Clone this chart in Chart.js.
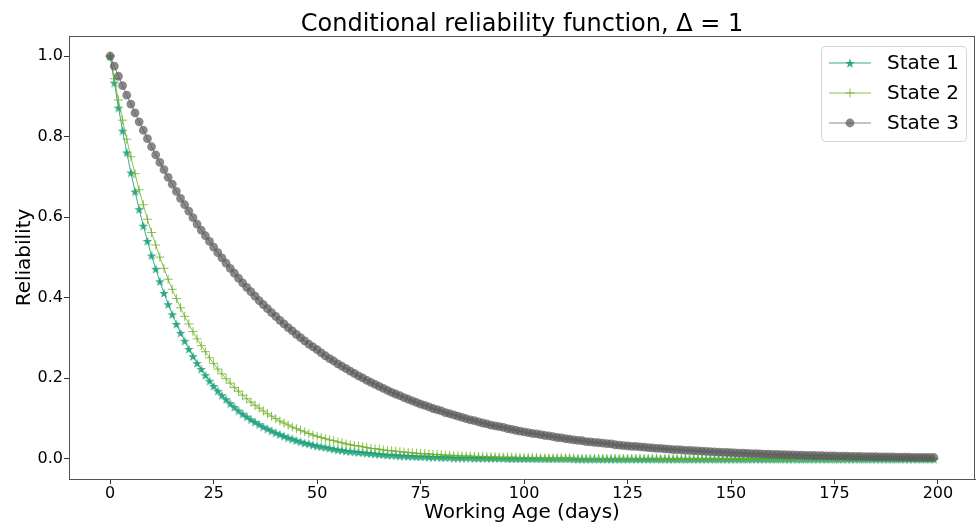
<!DOCTYPE html>
<html>
<head>
<meta charset="utf-8">
<script src="https://cdn.jsdelivr.net/npm/chart.js@4.4.1/dist/chart.umd.min.js"></script>
<style>
  html, body { margin: 0; padding: 0; background: #fff; }
  #wrap { position: relative; width: 976px; height: 525px; }
</style>
</head>
<body>
<div id="wrap"><canvas id="chart" width="976" height="525"></canvas></div>
<script>
// Working age in days (x values)
const days = [
  0, 1, 2, 3, 4, 5, 6, 7, 8, 9, 10, 11, 12, 13, 14, 15, 16, 17, 18, 19,
  20, 21, 22, 23, 24, 25, 26, 27, 28, 29, 30, 31, 32, 33, 34, 35, 36, 37, 38, 39,
  40, 41, 42, 43, 44, 45, 46, 47, 48, 49, 50, 51, 52, 53, 54, 55, 56, 57, 58, 59,
  60, 61, 62, 63, 64, 65, 66, 67, 68, 69, 70, 71, 72, 73, 74, 75, 76, 77, 78, 79,
  80, 81, 82, 83, 84, 85, 86, 87, 88, 89, 90, 91, 92, 93, 94, 95, 96, 97, 98, 99,
  100, 101, 102, 103, 104, 105, 106, 107, 108, 109, 110, 111, 112, 113, 114, 115, 116, 117, 118, 119,
  120, 121, 122, 123, 124, 125, 126, 127, 128, 129, 130, 131, 132, 133, 134, 135, 136, 137, 138, 139,
  140, 141, 142, 143, 144, 145, 146, 147, 148, 149, 150, 151, 152, 153, 154, 155, 156, 157, 158, 159,
  160, 161, 162, 163, 164, 165, 166, 167, 168, 169, 170, 171, 172, 173, 174, 175, 176, 177, 178, 179,
  180, 181, 182, 183, 184, 185, 186, 187, 188, 189, 190, 191, 192, 193, 194, 195, 196, 197, 198, 199
];

// State 1 reliability
const state1 = [
  1.000, 0.934, 0.872, 0.815, 0.761, 0.711, 0.664, 0.620, 0.579, 0.541,
  0.505, 0.472, 0.441, 0.412, 0.384, 0.359, 0.335, 0.313, 0.293, 0.273,
  0.255, 0.238, 0.223, 0.208, 0.194, 0.181, 0.169, 0.158, 0.148, 0.138,
  0.129, 0.120, 0.112, 0.105, 0.098, 0.092, 0.086, 0.080, 0.075, 0.070,
  0.065, 0.061, 0.057, 0.053, 0.050, 0.046, 0.043, 0.040, 0.038, 0.035,
  0.033, 0.031, 0.029, 0.027, 0.025, 0.023, 0.022, 0.020, 0.019, 0.018,
  0.017, 0.016, 0.015, 0.014, 0.013, 0.012, 0.011, 0.010, 0.010, 0.009,
  0.008, 0.008, 0.007, 0.007, 0.006, 0.006, 0.006, 0.005, 0.005, 0.005,
  0.004, 0.004, 0.004, 0.003, 0.003, 0.003, 0.003, 0.003, 0.002, 0.002,
  0.002, 0.002, 0.002, 0.002, 0.002, 0.002, 0.001, 0.001, 0.001, 0.001,
  0.001, 0.001, 0.001, 0.001, 0.001, 0.001, 0.001, 0.001, 0.001, 0.001,
  0.001, 0.001, 0, 0, 0, 0, 0, 0, 0, 0,
  0, 0, 0, 0, 0, 0, 0, 0, 0, 0, 0, 0, 0, 0, 0, 0, 0, 0, 0, 0,
  0, 0, 0, 0, 0, 0, 0, 0, 0, 0, 0, 0, 0, 0, 0, 0, 0, 0, 0, 0,
  0, 0, 0, 0, 0, 0, 0, 0, 0, 0, 0, 0, 0, 0, 0, 0, 0, 0, 0, 0,
  0, 0, 0, 0, 0, 0, 0, 0, 0, 0, 0, 0, 0, 0, 0, 0, 0, 0, 0, 0
];

// State 2 reliability (light green plus curve)
const state2 = [
  1.000, 0.944, 0.891, 0.841, 0.794, 0.750, 0.708, 0.668, 0.631, 0.595,
  0.562, 0.531, 0.501, 0.473, 0.446, 0.421, 0.398, 0.375, 0.354, 0.335,
  0.316, 0.298, 0.281, 0.266, 0.251, 0.237, 0.223, 0.211, 0.199, 0.188,
  0.177, 0.168, 0.158, 0.149, 0.141, 0.133, 0.126, 0.119, 0.112, 0.106,
  0.100, 0.094, 0.089, 0.084, 0.079, 0.075, 0.071, 0.067, 0.063, 0.059,
  0.056, 0.053, 0.050, 0.047, 0.045, 0.042, 0.040, 0.037, 0.035, 0.033,
  0.032, 0.030, 0.028, 0.026, 0.025, 0.024, 0.022, 0.021, 0.020, 0.019,
  0.018, 0.017, 0.016, 0.015, 0.014, 0.013, 0.013, 0.012, 0.011, 0.011,
  0.010, 0.009, 0.009, 0.008, 0.008, 0.007, 0.007, 0.007, 0.006, 0.006,
  0.006, 0.005, 0.005, 0.005, 0.004, 0.004, 0.004, 0.004, 0.004, 0.003,
  0.003, 0.003, 0.003, 0.003, 0.002, 0.002, 0.002, 0.002, 0.002, 0.002,
  0.002, 0.002, 0.002, 0.001, 0.001, 0.001, 0.001, 0.001, 0.001, 0.001,
  0.001, 0.001, 0.001, 0.001, 0.001, 0.001, 0.001, 0.001, 0.001, 0.001,
  0.001, 0.001, 0.001, 0, 0, 0, 0, 0, 0, 0,
  0, 0, 0, 0, 0, 0, 0, 0, 0, 0, 0, 0, 0, 0, 0, 0, 0, 0, 0, 0,
  0, 0, 0, 0, 0, 0, 0, 0, 0, 0, 0, 0, 0, 0, 0, 0, 0, 0, 0, 0,
  0, 0, 0, 0, 0, 0, 0, 0, 0, 0, 0, 0, 0, 0, 0, 0, 0, 0, 0, 0
];

// State 3 reliability (grey circle curve)
const state3 = [
  1.000, 0.975, 0.950, 0.927, 0.903, 0.881, 0.859, 0.837, 0.816, 0.795,
  0.775, 0.755, 0.736, 0.718, 0.699, 0.682, 0.664, 0.647, 0.631, 0.615,
  0.599, 0.583, 0.568, 0.554, 0.540, 0.526, 0.512, 0.499, 0.486, 0.473,
  0.461, 0.449, 0.437, 0.426, 0.415, 0.404, 0.393, 0.383, 0.373, 0.363,
  0.354, 0.344, 0.335, 0.326, 0.318, 0.309, 0.301, 0.293, 0.285, 0.278,
  0.271, 0.263, 0.256, 0.249, 0.243, 0.236, 0.230, 0.224, 0.218, 0.212,
  0.206, 0.201, 0.195, 0.190, 0.185, 0.180, 0.175, 0.170, 0.165, 0.161,
  0.157, 0.152, 0.148, 0.144, 0.140, 0.136, 0.133, 0.129, 0.125, 0.122,
  0.119, 0.115, 0.112, 0.109, 0.106, 0.103, 0.100, 0.097, 0.095, 0.092,
  0.089, 0.087, 0.084, 0.082, 0.080, 0.078, 0.075, 0.073, 0.071, 0.069,
  0.067, 0.065, 0.063, 0.062, 0.060, 0.058, 0.057, 0.055, 0.053, 0.052,
  0.050, 0.049, 0.047, 0.046, 0.045, 0.043, 0.042, 0.041, 0.040, 0.039,
  0.038, 0.037, 0.035, 0.034, 0.033, 0.032, 0.031, 0.031, 0.030, 0.029,
  0.028, 0.027, 0.026, 0.026, 0.025, 0.024, 0.023, 0.023, 0.022, 0.021,
  0.021, 0.0201, 0.0195, 0.0189, 0.0184, 0.0178, 0.0173, 0.0168, 0.0163, 0.0158,
  0.0153, 0.0148, 0.0144, 0.0140, 0.0136, 0.0132, 0.0128, 0.0124, 0.0120, 0.0117,
  0.0113, 0.0110, 0.0106, 0.0103, 0.0100, 0.0097, 0.0094, 0.0091, 0.0088, 0.0086,
  0.0083, 0.0081, 0.0078, 0.0076, 0.0073, 0.0071, 0.0069, 0.0067, 0.0065, 0.0063,
  0.0061, 0.0059, 0.0057, 0.0055, 0.0054, 0.0052, 0.0050, 0.0049, 0.0047, 0.0046,
  0.0044, 0.0043, 0.0041, 0.0040, 0.0039, 0.0038, 0.0037, 0.0036, 0.0035, 0.0034
];

const seriesNames = ['State 1', 'State 2', 'State 3'];
const xTicks = [0, 25, 50, 75, 100, 125, 150, 175, 200];
const yTicks = [0, 0.2, 0.4, 0.6, 0.8, 1.0];
const chartTitle = 'Conditional reliability function, \u0394 = 1';
const xTitle = 'Working Age (days)';
const yTitle = 'Reliability';

const FONT = '"DejaVu Sans", "Liberation Sans", sans-serif';
const tealColor = 'rgba(24, 158, 120, 0.85)';
const greenColor = 'rgba(108, 178, 38, 0.8)';
const greyColor = 'rgba(92, 92, 92, 0.72)';
const PLOT_RIGHT = 975;

// filled 5-point star like matplotlib '*'
function makeStar(size, color) {
  const c = document.createElement('canvas');
  c.width = size;
  c.height = size;
  const g = c.getContext('2d');
  const ro = size / 2, ri = ro * 0.42;
  g.beginPath();
  for (let i = 0; i < 10; i++) {
    const r = i % 2 ? ri : ro;
    const a = -Math.PI / 2 + i * Math.PI / 5;
    g.lineTo(ro + r * Math.cos(a), ro + 0.6 + r * Math.sin(a));
  }
  g.closePath();
  g.fillStyle = color;
  g.fill();
  return c;
}

const starImg = makeStar(10, tealColor);

function toPoints(ys) {
  return days.map((d, i) => ({ x: d, y: ys[i] }));
}

// stretch the plot area to the right edge like the matplotlib figure
const stretchRight = {
  id: 'stretchRight',
  afterLayout(chart) {
    const x = chart.scales.x;
    const a = chart.chartArea;
    x.right = PLOT_RIGHT;
    x.width = x.right - x.left;
    x.configure();
    a.right = PLOT_RIGHT;
    a.width = a.right - a.left;
    const y = chart.scales.y;
    y.configure();
  }
};

// Draw spines, title and legend by hand
const decorations = {
  id: 'decorations',
  afterDraw(chart) {
    const { ctx, chartArea: a } = chart;
    ctx.save();

    ctx.strokeStyle = '#555';
    ctx.lineWidth = 1;
    ctx.beginPath();
    ctx.moveTo(a.left, a.top + 0.5);
    ctx.lineTo(a.right, a.top + 0.5);
    ctx.moveTo(a.right - 0.5, a.top);
    ctx.lineTo(a.right - 0.5, a.bottom);
    ctx.stroke();

    ctx.fillStyle = '#000';
    ctx.font = '24px ' + FONT;
    ctx.textAlign = 'center';
    ctx.textBaseline = 'alphabetic';
    ctx.fillText(chartTitle, (a.left + a.right) / 2, 31);

    // legend box
    const bx = 821.5, by = 46.5, bw = 145, bh = 95, r = 4;
    ctx.beginPath();
    ctx.moveTo(bx + r, by);
    ctx.arcTo(bx + bw, by, bx + bw, by + bh, r);
    ctx.arcTo(bx + bw, by + bh, bx, by + bh, r);
    ctx.arcTo(bx, by + bh, bx, by, r);
    ctx.arcTo(bx, by, bx + bw, by, r);
    ctx.closePath();
    ctx.fillStyle = 'rgba(255,255,255,0.85)';
    ctx.fill();
    ctx.strokeStyle = '#d4d4d4';
    ctx.stroke();

    const rows = [63, 93, 123];
    chart.data.datasets.forEach((ds, i) => {
      const y = rows[i];
      ctx.strokeStyle = ds.borderColor;
      ctx.lineWidth = 1;
      ctx.beginPath();
      ctx.moveTo(829, y);
      ctx.lineTo(871, y);
      ctx.stroke();

      ctx.fillStyle = ds.pointBackgroundColor;
      ctx.strokeStyle = ds.pointBorderColor;
      ctx.lineWidth = ds.pointBorderWidth;
      Chart.helpers.drawPoint(ctx, {
        pointStyle: ds.pointStyle,
        radius: ds.pointRadius,
        borderWidth: ds.pointBorderWidth,
        rotation: 0
      }, 850, y);

      ctx.fillStyle = '#000';
      ctx.font = '20px ' + FONT;
      ctx.textAlign = 'left';
      ctx.textBaseline = 'middle';
      ctx.fillText(ds.label, 887, y + 1);
    });

    ctx.restore();
  }
};

new Chart(document.getElementById('chart'), {
  type: 'line',
  data: {
    datasets: [
      {
        label: seriesNames[0],
        data: toPoints(state1),
        borderColor: tealColor,
        borderWidth: 1,
        pointStyle: starImg,
        pointRadius: 4,
        pointBackgroundColor: tealColor,
        pointBorderColor: tealColor,
        pointBorderWidth: 1,
        tension: 0,
        order: 3
      },
      {
        label: seriesNames[1],
        data: toPoints(state2),
        borderColor: greenColor,
        borderWidth: 1,
        pointStyle: 'cross',
        pointRadius: 4.5,
        pointBackgroundColor: greenColor,
        pointBorderColor: greenColor,
        pointBorderWidth: 1,
        tension: 0,
        order: 2
      },
      {
        label: seriesNames[2],
        data: toPoints(state3),
        borderColor: greyColor,
        borderWidth: 1,
        pointStyle: 'circle',
        pointRadius: 4.4,
        pointBackgroundColor: greyColor,
        pointBorderColor: greyColor,
        pointBorderWidth: 0,
        tension: 0,
        order: 1
      }
    ]
  },
  options: {
    responsive: false,
    animation: false,
    devicePixelRatio: 1,
    layout: { padding: { top: 36, right: 1, left: 0, bottom: 0 } },
    plugins: {
      legend: { display: false },
      title: { display: false },
      tooltip: { enabled: false }
    },
    scales: {
      x: {
        type: 'linear',
        min: -9.95,
        max: 208.95,
        afterBuildTicks(scale) { scale.ticks = xTicks.map(v => ({ value: v })); },
        afterFit(scale) {
          scale.height = 46;
          scale.paddingLeft = 0;
          scale.paddingRight = 0;
        },
        grid: { drawOnChartArea: false, drawTicks: true, tickLength: 5, tickColor: '#333' },
        border: { display: true, color: '#555', width: 1 },
        ticks: { color: '#000', padding: 0, maxRotation: 0, font: { family: FONT, size: 16 } },
        title: { display: true, text: xTitle, color: '#000', padding: { top: 0, bottom: 0 }, font: { family: FONT, size: 20 } }
      },
      y: {
        type: 'linear',
        min: -0.05,
        max: 1.05,
        afterBuildTicks(scale) { scale.ticks = yTicks.map(v => ({ value: v })); },
        afterFit(scale) {
          scale.width = 69;
          scale.paddingTop = 0;
          scale.paddingBottom = 0;
        },
        grid: { drawOnChartArea: false, drawTicks: true, tickLength: 5, tickColor: '#333' },
        border: { display: true, color: '#555', width: 1 },
        ticks: { color: '#000', padding: 1, font: { family: FONT, size: 16 }, callback: v => v.toFixed(1) },
        title: { display: true, text: yTitle, color: '#000', padding: { top: 13, bottom: 0 }, font: { family: FONT, size: 20 } }
      }
    }
  },
  plugins: [stretchRight, decorations]
});
</script>
</body>
</html>
